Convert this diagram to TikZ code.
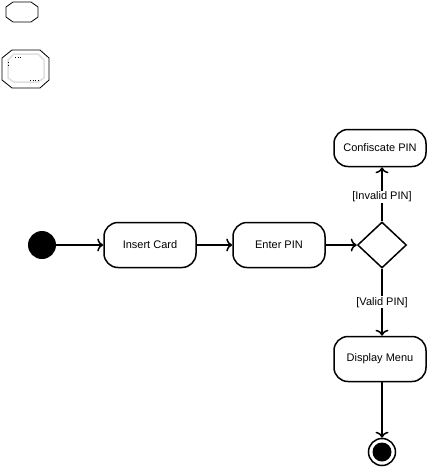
\documentclass[tikz,border=0pt]{standalone}
\usepackage{fontspec}
\setmainfont{Liberation Sans}
\usetikzlibrary{arrows.meta,shapes.geometric}
\begin{document}
\begin{tikzpicture}[x=1pt,y=-1pt,
  act/.style={draw,line width=1.5pt,rounded corners=14pt,minimum width=92pt,minimum height=45pt,font=\fontsize{11}{13}\selectfont,inner sep=0pt},
  dec/.style={draw,line width=1.5pt,diamond,minimum width=49pt,minimum height=46pt,inner sep=0pt},
  flow/.style={line width=1.5pt,-{To[length=6pt,width=13pt]}},
  lbl/.style={font=\fontsize{11}{13}\selectfont,fill=white,inner sep=1pt}]
\useasboundingbox (0,0) rectangle (440,467);
% top-left octagons
\draw[line width=0.8pt] (13,2) -- (31,2) -- (38,7) -- (38,17) -- (31,22) -- (13,22) -- (6,17) -- (6,7) -- cycle;
\draw[line width=0.8pt] (12,50) -- (40,50) -- (49,58) -- (49,80) -- (40,88) -- (12,88) -- (2,80) -- (2,58) -- cycle;
\draw[line width=1.5pt,gray!25] (14,54) -- (38,54) -- (44,60) -- (44,78) -- (38,82) -- (14,82) -- (8,78) -- (8,60) -- cycle;
\draw[line width=0.6pt,dotted] (15,57) -- (22,57) (30,80) -- (40,80) (8,62) -- (8,66);
% nodes
\node[circle,fill=black,minimum size=28pt,inner sep=0pt] (start) at (42,245) {};
\node[act] (insert) at (150,245) {Insert Card};
\node[act] (enter) at (279,245) {Enter PIN};
\node[dec] (dec) at (382,245) {};
\node[act,minimum height=37pt] (conf) at (380,148) {Confiscate PIN};
\node[act] (menu) at (380,359) {Display Menu};
\node[circle,draw,line width=1.5pt,minimum size=27pt,inner sep=0pt] (end) at (382,452) {};
\node[circle,fill=black,minimum size=19pt,inner sep=0pt] at (end) {};
% flows
\draw[flow] (start) -- (insert);
\draw[flow] (insert) -- (enter);
\draw[flow] (enter) -- (dec);
\draw[flow] (dec.north) -- (conf.south -| dec.north) node[lbl,pos=0.45] {[Invalid PIN]};
\draw[flow] (dec.south) -- (menu.north -| dec.south) node[lbl,pos=0.5] {[Valid PIN]};
\draw[flow] (menu.south -| end.north) -- (end.north);
\end{tikzpicture}
\end{document}
